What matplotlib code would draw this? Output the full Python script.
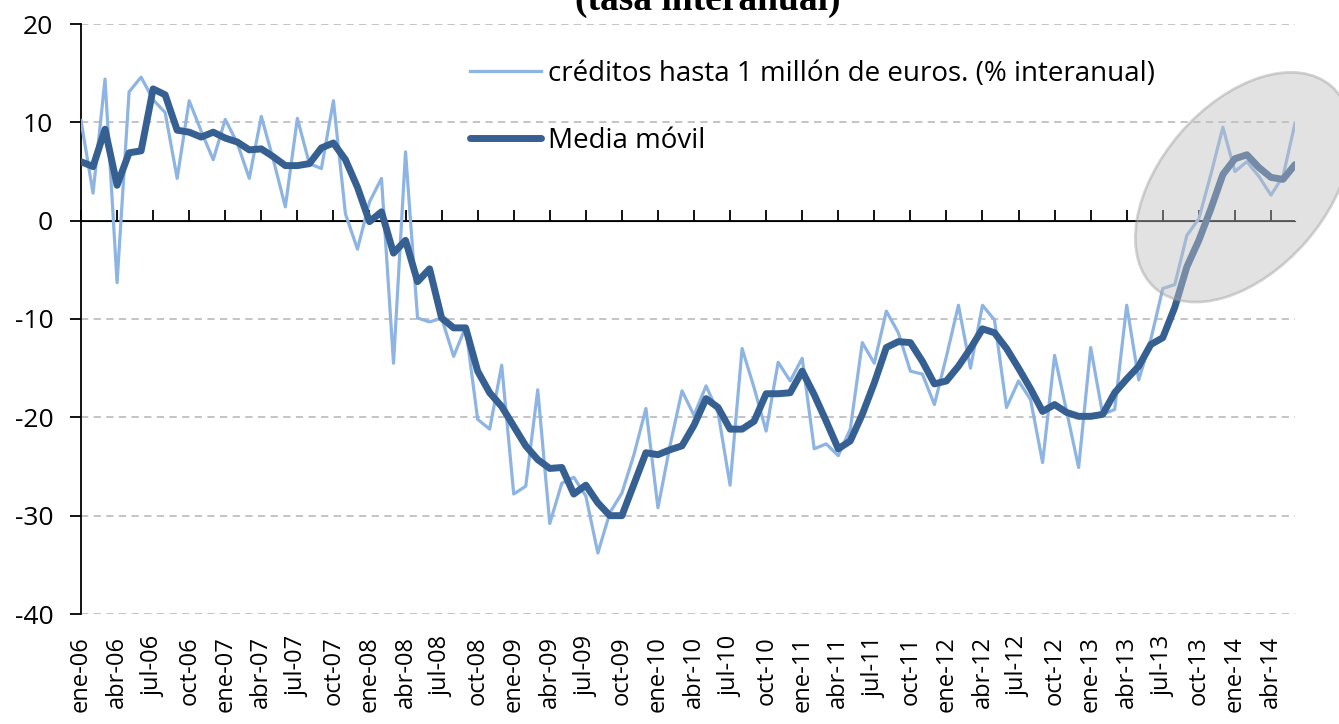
import matplotlib
matplotlib.use('Agg')
import matplotlib.pyplot as plt
from matplotlib.patches import Ellipse
from matplotlib.transforms import IdentityTransform

# monthly series, ene-06 .. jun-14
creditos = [10.2, 2.8, 14.4, -6.3, 13.1, 14.6, 12.3, 11.0, 4.3, 12.2, 9.1, 6.2,
            10.3, 7.9, 4.3, 10.6, 6.2, 1.4, 10.4, 5.8, 5.3, 12.2, 0.7, -2.9,
            1.9, 4.3, -14.5, 7.0, -9.9, -10.3, -9.9, -13.8, -10.8, -20.2, -21.2, -14.7,
            -27.8, -27.0, -17.2, -30.8, -26.7, -26.1, -28.0, -33.8, -29.7, -27.7, -23.8, -19.1,
            -29.2, -22.9, -17.3, -19.8, -16.8, -19.5, -26.9, -13.0, -17.0, -21.4, -14.4, -16.3,
            -14.0, -23.2, -22.7, -23.9, -21.2, -12.4, -14.5, -9.2, -11.4, -15.3, -15.6, -18.7,
            -13.8, -8.6, -15.0, -8.6, -10.1, -19.0, -16.3, -18.2, -24.6, -13.7, -19.4, -25.1,
            -12.9, -19.7, -19.2, -8.6, -16.2, -12.1, -6.9, -6.5, -1.5, 0.2, 4.7, 9.5,
            5.0, 6.0, 4.5, 2.6, 4.5, 9.9]
media_movil = [6.0, 5.5, 9.3, 3.6, 6.9, 7.1, 13.4, 12.8, 9.2, 9.0, 8.5, 9.0,
               8.4, 8.0, 7.2, 7.3, 6.5, 5.6, 5.6, 5.8, 7.4, 7.9, 6.2, 3.4,
               -0.1, 0.9, -3.3, -2.0, -6.2, -4.9, -9.9, -10.9, -10.9, -15.3, -17.5, -18.9,
               -20.9, -22.9, -24.3, -25.2, -25.1, -27.8, -26.9, -28.7, -30.0, -30.0, -26.8, -23.6,
               -23.8, -23.3, -22.9, -20.8, -18.1, -19.0, -21.2, -21.2, -20.4, -17.6, -17.6, -17.5,
               -15.3, -17.7, -20.4, -23.2, -22.4, -19.7, -16.5, -12.9, -12.3, -12.4, -14.3, -16.6,
               -16.3, -14.8, -13.0, -11.0, -11.4, -13.0, -15.0, -17.1, -19.4, -18.7, -19.5, -19.9,
               -19.9, -19.7, -17.5, -16.1, -14.8, -12.6, -11.9, -8.8, -4.7, -2.0, 1.2, 4.7,
               6.3, 6.7, 5.4, 4.4, 4.2, 5.7]

meses = ['ene', 'feb', 'mar', 'abr', 'may', 'jun', 'jul', 'ago', 'sep', 'oct', 'nov', 'dic']
fechas = [f'{meses[k % 12]}-{6 + k // 12:02d}' for k in range(len(creditos))]
yticks = [-40, -30, -20, -10, 0, 10, 20]

light = '#8db4e2'
dark = '#376092'
font = 'Open Sans'

fig = plt.figure(figsize=(13.39, 7.24), dpi=100)
ax = fig.add_axes([81 / 1339, 1 - 614 / 724, (1295 - 81) / 1339, (614 - 24) / 724])

x = list(range(len(creditos)))
ax.plot(x, creditos, color=light, lw=2.3, label='créditos hasta 1 millón de euros. (% interanual)', zorder=3)
ax.plot(x, media_movil, color=dark, lw=5, label='Media móvil', solid_capstyle='round', zorder=4)

ax.set_xlim(0, len(creditos) - 1)
ax.set_ylim(-40, 20)
ax.set_yticks(yticks)
ax.set_yticklabels([str(v) for v in yticks], fontsize=19, family=font)
for v in yticks:
    if v != 0:
        ax.axhline(v, color='#bfbfbf', lw=1.3, ls=(0, (4, 3)), zorder=1)
ax.axhline(0, color='black', lw=1.3, zorder=2)

for s in ['top', 'right', 'bottom']:
    ax.spines[s].set_visible(False)
ax.spines['left'].set_linewidth(1.3)
ax.tick_params(axis='y', length=8, width=1.3, pad=12, colors='black')

tick_pos = x[::3]
ax.set_xticks(tick_pos)
ax.set_xticklabels([fechas[k] for k in tick_pos], rotation=90, fontsize=17, family=font, va='top')
ax.tick_params(axis='x', length=0, pad=16)

# tick marks hanging from the zero line
sec = ax.secondary_xaxis(40 / 60)
sec.set_xticks(tick_pos)
sec.set_xticklabels([])
sec.tick_params(length=8, width=1.3, direction='out')
sec.spines['bottom'].set_visible(False)

leg = ax.legend(loc='upper left', bbox_to_anchor=(456 / 1339, 1 - 46 / 724), bbox_transform=fig.transFigure,
                frameon=False, prop={'family': font, 'size': 20}, handlelength=2.55,
                handletextpad=0.25, labelspacing=1.4, borderpad=0)

fig.text(708 / 1339, 1 - 10 / 724, '(tasa interanual)', ha='center', va='baseline',
         fontsize=27, weight='bold', family='Liberation Serif')

# highlight of the last months
cx, cy = ax.transData.transform((96.7, 3.4))
ell = Ellipse((cx, cy), 268, 166, angle=49, transform=IdentityTransform(),
              facecolor='#bfbfbf', edgecolor='#a0a0a0', lw=2, alpha=0.45, zorder=6, clip_on=False)
ax.add_patch(ell)

fig.savefig('out.png', dpi=100)
